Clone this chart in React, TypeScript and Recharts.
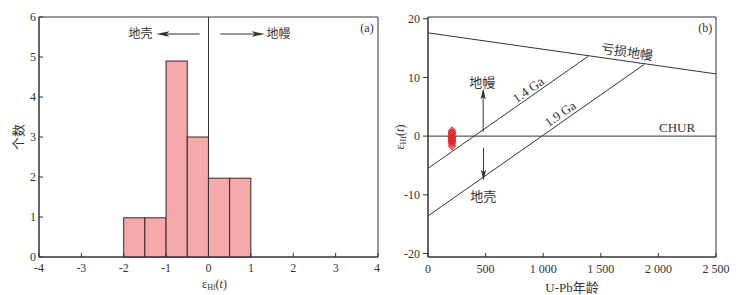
import {
  ComposedChart,
  Bar,
  Line,
  Scatter,
  XAxis,
  YAxis,
  ReferenceLine,
  ReferenceDot,
  ReferenceArea,
  Label,
} from "recharts";

const FONT = "'Liberation Serif', 'Noto Sans CJK SC', serif";
const INK = "#333";
const RED = "#e8262b";

// (a) histogram of εHf(t), bin width 0.5
const binStarts = [-2, -1.5, -1, -0.5, 0, 0.5];
const binCounts = [0.98, 0.98, 4.9, 3, 1.97, 1.97];
const epsTicks = [-4, -3, -2, -1, 0, 1, 2, 3, 4];
const countTicks = [0, 1, 2, 3, 4, 5, 6];

// (b) εHf(t) vs U-Pb age
const dmAge = [0, 2500];
const dmEps = [17.6, 10.6];
const ga14Age = [0, 1390];
const ga14Eps = [-5.5, 13.6];
const ga19Age = [0, 1875];
const ga19Eps = [-13.6, 12.2];
const churAge = [0, 2500];
const churEps = [0, 0];
const sampleAge = [208, 208, 208, 208, 208, 208, 208, 208, 208, 208, 208, 208, 208, 208];
const sampleEps = [0.9, 0.6, 0.4, 0.2, -0.1, -0.2, -0.4, -0.6, -0.7, -0.8, -0.9, -0.95, -1.3, -1.7];
const ageTicks = [0, 500, 1000, 1500, 2000, 2500];
const epsBTicks = [-20, -10, 0, 10, 20];

const BIN = 0.5;
const histData = binStarts.map((b, i) => ({ mid: b + BIN / 2, count: binCounts[i] }));
const toXY = (xs: number[], ys: number[]) => xs.map((x, i) => ({ x, y: ys[i] }));

// left panel geometry
const H_LEFT = 39;
const H_RIGHT = 2;
const H_WIDTH = 380;
const barPx = ((H_WIDTH - H_LEFT - H_RIGHT) / 8) * BIN;

// bar drawn at the full bin width, centred where recharts puts it
const binRect = (p: any) => {
  if (!p.height) return <g />;
  const cx = p.x + p.width / 2;
  return (
    <rect
      x={cx - barPx / 2}
      y={p.y}
      width={barPx}
      height={p.height}
      fill="#f5a9ab"
      stroke="#3a2626"
      strokeWidth={1}
    />
  );
};

type Dir = "up" | "down" | "left" | "right";

const arrowHead = (dir: Dir, len: number, half: number) => (p: any) => {
  const rot = { right: 0, down: 90, left: 180, up: -90 }[dir];
  return (
    <polygon
      points={`0,0 ${-len},${-half} ${-len * 0.78},0 ${-len},${half}`}
      transform={`translate(${p.cx},${p.cy}) rotate(${rot})`}
      fill={INK}
    />
  );
};

const textShape =
  (value: string, size: number, anchor = "middle", angle = 0) =>
  (p: any) => (
    <text
      x={p.cx}
      y={p.cy}
      textAnchor={anchor}
      dominantBaseline="central"
      fontFamily={FONT}
      fontSize={size}
      fill={INK}
      transform={angle ? `rotate(${angle} ${p.cx} ${p.cy})` : undefined}
    >
      {value}
    </text>
  );

function EpsText({ x, y, rotate = 0 }: { x: number; y: number; rotate?: number }) {
  return (
    <text
      x={x}
      y={y}
      textAnchor="middle"
      dominantBaseline="central"
      fontFamily={FONT}
      fontSize={12}
      fill={INK}
      transform={rotate ? `rotate(${rotate} ${x} ${y})` : undefined}
    >
      ε
      <tspan fontSize={8} dy={3}>
        Hf
      </tspan>
      <tspan dy={-3}>(</tspan>
      <tspan fontStyle="italic">t</tspan>)
    </text>
  );
}

const tickStyle = { fill: INK, fontSize: 12, fontFamily: FONT };

function HistPanel() {
  return (
    <ComposedChart
      width={H_WIDTH}
      height={295}
      data={histData}
      margin={{ top: 17, right: H_RIGHT, bottom: 8, left: 0 }}
      barCategoryGap={0}
      barGap={0}
    >
      <XAxis
        dataKey="mid"
        type="number"
        domain={[-4, 4]}
        ticks={epsTicks}
        allowDataOverflow
        height={30}
        tickSize={-4}
        tickMargin={10}
        axisLine={{ stroke: INK }}
        tickLine={{ stroke: INK }}
        tick={tickStyle}
      >
        <Label
          content={(p: any) => (
            <EpsText x={p.viewBox.x + p.viewBox.width / 2 + 6} y={p.viewBox.y + 27} />
          )}
        />
      </XAxis>
      <YAxis
        type="number"
        domain={[0, 6]}
        ticks={countTicks}
        width={H_LEFT}
        tickSize={-4}
        tickMargin={7}
        axisLine={{ stroke: INK }}
        tickLine={{ stroke: INK }}
        tick={tickStyle}
      >
        <Label
          content={(p: any) => {
            const x = p.viewBox.x + 18;
            const y = p.viewBox.y + p.viewBox.height / 2;
            return (
              <text
                x={x}
                y={y}
                textAnchor="middle"
                dominantBaseline="central"
                fontFamily={FONT}
                fontSize={13}
                fill={INK}
                transform={`rotate(-90 ${x} ${y})`}
              >
                个数
              </text>
            );
          }}
        />
      </YAxis>
      <Bar dataKey="count" barSize={barPx} shape={binRect} isAnimationActive={false} />
      <ReferenceArea x1={-4} x2={4} y1={0} y2={6} fill="none" stroke={INK} />
      <ReferenceLine x={0} stroke={INK} />
      <ReferenceLine
        segment={[
          { x: -0.21, y: 5.575 },
          { x: -1.1, y: 5.575 },
        ]}
        stroke={INK}
      />
      <ReferenceDot x={-1.23} y={5.575} r={0} shape={arrowHead("left", 13, 2.8)} />
      <ReferenceDot x={-1.32} y={5.575} r={0} shape={textShape("地壳", 12, "end")} />
      <ReferenceLine
        segment={[
          { x: 0.28, y: 5.575 },
          { x: 1.2, y: 5.575 },
        ]}
        stroke={INK}
      />
      <ReferenceDot x={1.33} y={5.575} r={0} shape={arrowHead("right", 13, 2.8)} />
      <ReferenceDot x={1.37} y={5.575} r={0} shape={textShape("地幔", 12, "start")} />
      <ReferenceDot x={3.74} y={5.72} r={0} shape={textShape("(a)", 12)} />
    </ComposedChart>
  );
}

const diamond = (p: any) => (
  <polygon
    points={`${p.cx},${p.cy - 3.6} ${p.cx + 3.4},${p.cy} ${p.cx},${p.cy + 3.6} ${p.cx - 3.4},${p.cy}`}
    fill="none"
    stroke={RED}
    strokeWidth={1.1}
  />
);

function AgePanel() {
  const thousands = (v: number) => String(v).replace(/\B(?=(\d{3})+(?!\d))/g, " ");
  return (
    <ComposedChart width={367} height={295} margin={{ top: 17, right: 31, bottom: 8, left: 0 }}>
      <XAxis
        dataKey="x"
        type="number"
        domain={[0, 2500]}
        ticks={ageTicks}
        allowDataOverflow
        height={30}
        tickSize={-4}
        tickMargin={11}
        tickFormatter={thousands}
        axisLine={{ stroke: INK }}
        tickLine={{ stroke: INK }}
        tick={tickStyle}
      >
        <Label
          content={(p: any) => (
            <text
              x={p.viewBox.x + p.viewBox.width / 2}
              y={p.viewBox.y + 30}
              textAnchor="middle"
              dominantBaseline="central"
              fontFamily={FONT}
              fontSize={13}
              fill={INK}
            >
              U-Pb年龄
            </text>
          )}
        />
      </XAxis>
      <YAxis
        dataKey="y"
        type="number"
        domain={[-20.6, 20.3]}
        ticks={epsBTicks}
        allowDataOverflow
        width={48}
        tickSize={5}
        tickMargin={3}
        axisLine={{ stroke: INK }}
        tickLine={{ stroke: INK }}
        tick={tickStyle}
      >
        <Label
          content={(p: any) => (
            <EpsText x={p.viewBox.x + 20} y={p.viewBox.y + p.viewBox.height / 2} rotate={-90} />
          )}
        />
      </YAxis>
      <ReferenceArea x1={0} x2={2500} y1={-20.6} y2={20.3} fill="none" stroke={INK} />
      <Line data={toXY(dmAge, dmEps)} dataKey="y" stroke={INK} dot={false} activeDot={false} isAnimationActive={false} />
      <Line data={toXY(ga14Age, ga14Eps)} dataKey="y" stroke={INK} dot={false} activeDot={false} isAnimationActive={false} />
      <Line data={toXY(ga19Age, ga19Eps)} dataKey="y" stroke={INK} dot={false} activeDot={false} isAnimationActive={false} />
      <Line data={toXY(churAge, churEps)} dataKey="y" stroke={INK} dot={false} activeDot={false} isAnimationActive={false} />
      <Scatter data={toXY(sampleAge, sampleEps)} shape={diamond} isAnimationActive={false} />
      <ReferenceLine
        segment={[
          { x: 479, y: 0.75 },
          { x: 479, y: 7 },
        ]}
        stroke={INK}
      />
      <ReferenceDot x={479} y={8.15} r={0} shape={arrowHead("up", 11, 2.6)} />
      <ReferenceDot x={470} y={9.2} r={0} shape={textShape("地幔", 13)} />
      <ReferenceLine
        segment={[
          { x: 482, y: -2 },
          { x: 482, y: -6.5 },
        ]}
        stroke={INK}
      />
      <ReferenceDot x={482} y={-7.6} r={0} shape={arrowHead("down", 11, 2.6)} />
      <ReferenceDot x={479} y={-10.3} r={0} shape={textShape("地壳", 13)} />
      <ReferenceDot x={870} y={7.9} r={0} shape={textShape("1.4 Ga", 13, "middle", -35)} />
      <ReferenceDot x={1147} y={3.8} r={0} shape={textShape("1.9 Ga", 13, "middle", -35)} />
      <ReferenceDot x={1728} y={14.3} r={0} shape={textShape("亏损地幔", 13, "middle", 8)} />
      <ReferenceDot x={2162} y={1.4} r={0} shape={textShape("CHUR", 13)} />
      <ReferenceDot x={2406} y={18.4} r={0} shape={textShape("(b)", 12)} />
    </ComposedChart>
  );
}

export default function App() {
  return (
    <div style={{ position: "absolute", left: 0, top: 0, width: 747, height: 295, background: "#fff" }}>
      <div style={{ position: "absolute", left: 0, top: 0 }}>
        <HistPanel />
      </div>
      <div style={{ position: "absolute", left: 380, top: 0 }}>
        <AgePanel />
      </div>
    </div>
  );
}
